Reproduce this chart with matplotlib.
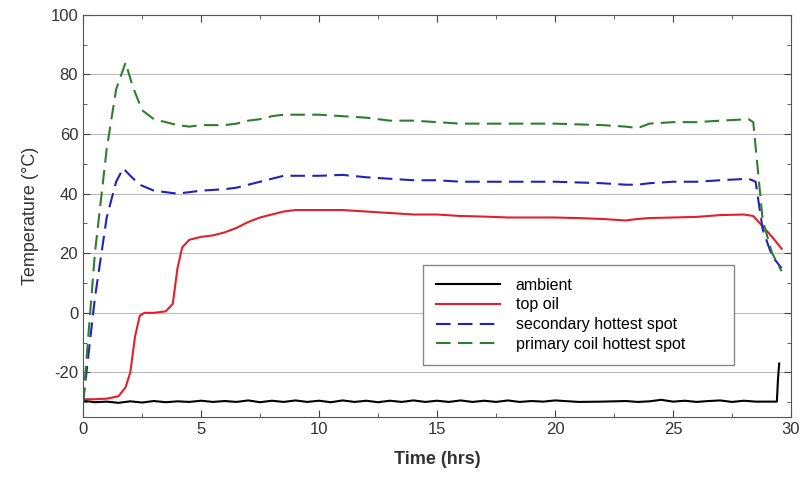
#!/usr/bin/env python3
import numpy as np
import matplotlib.pyplot as plt
from matplotlib.ticker import MultipleLocator

plt.rcParams['font.family'] = ['Liberation Sans', 'DejaVu Sans']
plt.rcParams['axes.unicode_minus'] = False

# ambient temperature (hrs, degC)
amb_t = [0, 0.5, 1, 1.5, 2, 2.5, 3, 3.5, 4, 4.5, 5, 5.5, 6, 6.5, 7, 7.5, 8, 8.5, 9,
         9.5, 10, 10.5, 11, 11.5, 12, 12.5, 13, 13.5, 14, 14.5, 15, 15.5, 16, 16.5,
         17, 17.5, 18, 18.5, 19, 19.5, 20, 21, 22, 23, 23.5, 24, 24.5, 25, 25.5, 26,
         26.5, 27, 27.5, 28, 28.5, 29, 29.4, 29.45, 29.5]
amb_v = [-29.5, -30, -29.8, -30.2, -29.7, -30.1, -29.6, -30.0, -29.7, -29.9, -29.5,
         -29.9, -29.6, -29.9, -29.4, -30.0, -29.5, -29.9, -29.4, -29.9, -29.5, -30.0,
         -29.4, -29.9, -29.5, -30.0, -29.5, -29.9, -29.4, -29.9, -29.5, -29.9, -29.4,
         -29.9, -29.5, -29.9, -29.4, -29.9, -29.6, -29.8, -29.4, -29.9, -29.8, -29.6,
         -29.9, -29.7, -29.2, -29.8, -29.5, -29.9, -29.6, -29.4, -29.9, -29.5, -29.8,
         -29.8, -29.8, -22, -17]

# top oil
oil_t = [0, 0.5, 1, 1.5, 1.8, 2.0, 2.2, 2.4, 2.6, 3.0, 3.5, 3.8, 4.0, 4.2, 4.5, 5.0,
         5.5, 6.0, 6.5, 7.0, 7.5, 8.0, 8.5, 9.0, 10, 11, 12, 13, 14, 15, 16, 17, 18,
         19, 20, 21, 22, 23, 23.5, 24, 25, 26, 27, 28, 28.4, 28.8, 29.2, 29.6]
oil_v = [-29, -29, -28.8, -28, -25, -20, -8, -1, 0, 0, 0.5, 3, 15, 22, 24.5, 25.5,
         26, 27, 28.5, 30.5, 32, 33, 34, 34.5, 34.5, 34.5, 34, 33.5, 33, 33, 32.5,
         32.3, 32, 32, 32, 31.8, 31.5, 31, 31.5, 31.8, 32, 32.2, 32.8, 33, 32.5, 29,
         25.5, 21.5]

# secondary hottest spot
sec_t = [0, 0.5, 1.0, 1.4, 1.7, 2.0, 2.4, 3.0, 3.5, 4.0, 4.5, 5.0, 6.0, 6.5, 7.0,
         7.5, 8.0, 8.5, 9, 10, 11, 12, 13, 14, 15, 16, 18, 20, 22, 23, 23.5, 24, 25,
         26, 27, 28.2, 28.5, 28.8, 29.2, 29.6]
sec_v = [-30, 5, 32, 44, 48.5, 46, 43, 41, 40.5, 40, 40.5, 41, 41.5, 42, 43, 44,
         45, 46, 46, 46, 46.3, 45.5, 45, 44.5, 44.5, 44, 44, 44, 43.5, 43, 43, 43.5,
         44, 44, 44.5, 45, 44, 28, 19, 15]

# primary coil hottest spot
pri_t = [0, 0.5, 1.0, 1.4, 1.8, 2.1, 2.5, 3.0, 3.5, 4.0, 4.5, 5.0, 6.0, 6.5, 7.0,
         7.5, 8.0, 8.5, 9, 10, 11, 12, 13, 14, 15, 16, 18, 20, 22, 23, 23.5, 24, 25,
         26, 27, 28.2, 28.4, 28.8, 29.2, 29.6]
pri_v = [-30, 20, 55, 75, 84, 76, 68, 65, 64, 63, 62.5, 63, 63, 63.5, 64.5, 65,
         66, 66.5, 66.5, 66.5, 66, 65.5, 64.5, 64.5, 64, 63.5, 63.5, 63.5, 63, 62.5,
         62, 63.5, 64, 64, 64.5, 65, 64, 31, 20, 14]


def main():
    fig = plt.figure(figsize=(7.99, 4.8), dpi=100)
    ax = fig.add_axes([0.104, 0.131, 0.886, 0.838])

    ax.plot(amb_t, amb_v, color='black', lw=1.5, label='ambient')
    ax.plot(oil_t, oil_v, color='#e0202a', lw=1.5, label='top oil')
    ax.plot(sec_t, sec_v, color='#2222bb', lw=1.5, ls=(0, (7, 3.5)),
            label='secondary hottest spot')
    ax.plot(pri_t, pri_v, color='#2e7d32', lw=1.5, ls=(0, (7, 3.5)),
            label='primary coil hottest spot')

    ax.set_xlim(0, 30)
    ax.set_ylim(-35, 100)
    ax.xaxis.set_major_locator(MultipleLocator(5))
    ax.xaxis.set_minor_locator(MultipleLocator(2.5))
    ax.yaxis.set_major_locator(MultipleLocator(20))
    ax.yaxis.set_minor_locator(MultipleLocator(10))
    ax.tick_params(which='both', direction='in', top=True, right=True,
                   labelsize=12, colors='#444444', labelcolor='#333333')
    ax.tick_params(which='major', length=5)
    ax.tick_params(which='minor', length=3)
    ax.grid(axis='y', which='major', color='#bbbbbb', lw=0.8)
    for s in ax.spines.values():
        s.set_color('#555555')

    ax.set_xlabel('Time (hrs)', fontsize=13, fontweight='bold', color='#333333',
                  labelpad=10)
    ax.set_ylabel('Temperature (°C)', fontsize=13, color='#333333', labelpad=8)

    ax.legend(loc='lower left', bbox_to_anchor=(0.48, 0.13, 0.44, 0.25),
              mode='expand', borderaxespad=0, fancybox=False,
              edgecolor='#888888', fontsize=11.5, handlelength=4.0,
              handletextpad=1.0, borderpad=0.8, labelspacing=0.3, framealpha=1)

    fig.savefig('out.png')


if __name__ == '__main__':
    main()
